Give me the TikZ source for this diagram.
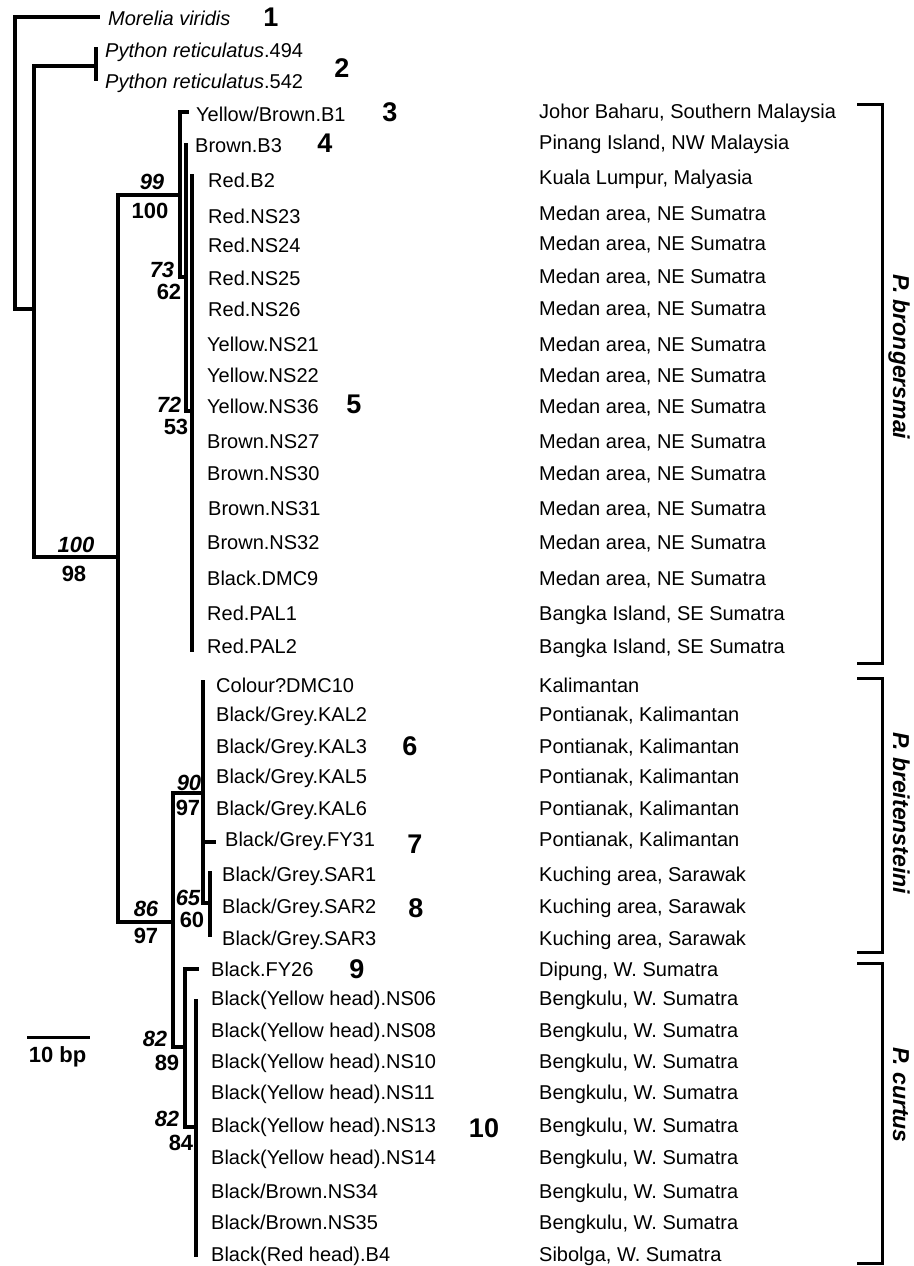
\documentclass[tikz,border=0pt]{standalone}
\usepackage{fontspec}
\setmainfont{Liberation Sans}
\usetikzlibrary{positioning,calc}

\begin{document}
\begin{tikzpicture}[x=1pt, y=-1pt, line join=miter,
    every node/.style={inner sep=0pt, font=\fontsize{20}{24}\selectfont},
    brline/.style={line width=3.4pt},
    taxon/.style={anchor=base west},
    place/.style={anchor=base west},
    boot/.style={anchor=base, font=\fontsize{22}{26}\selectfont\bfseries},
    bootit/.style={anchor=base, font=\fontsize{22}{26}\selectfont\bfseries\itshape},
    cladeno/.style={anchor=base, font=\fontsize{27}{30}\selectfont\bfseries},
    species/.style={anchor=base, rotate=-90, font=\fontsize{23}{26}\selectfont\bfseries\itshape},
    spbracket/.style={line width=3pt}]
    \useasboundingbox (0,0) rectangle (913,1266);

    \coordinate (root) at (15,160);
    \coordinate (nA) at (34,309);
    \coordinate (nPy) at (96,66);
    \coordinate (nB) at (118,557);
    \coordinate (nC) at (180,195);
    \coordinate (nD) at (186,277);
    \coordinate (nE) at (192,411);
    \coordinate (nF) at (173,922);
    \coordinate (nG) at (203,793);
    \coordinate (nH) at (210,903);
    \coordinate (nI) at (185,1047);
    \coordinate (nJ) at (196,1127);

    \coordinate (tMor) at (100,17);
    \coordinate (tPy1) at (96,47);
    \coordinate (tPy2) at (96,81);
    \coordinate (tB1) at (189,112);
    \coordinate (tB3) at (186,143);
    \coordinate (tB2) at (192,174);
    \coordinate (tPAL2) at (192,652);
    \coordinate (tDMC10) at (203,680);
    \coordinate (tFY31) at (216,842);
    \coordinate (tSAR1) at (210,871);
    \coordinate (tSAR3) at (210,937);
    \coordinate (tFY26) at (199,969);
    \coordinate (tNS06) at (196,999);
    \coordinate (tB4) at (196,1257);

    \draw[brline] (root) |- (tMor);
    \draw[brline] (root) |- (nA);
    \draw[brline] (nA) |- (nPy);
    \draw[brline] (tPy1) -- (tPy2);
    \draw[brline] (nA) |- (nB);
    \draw[brline] (nB) |- (nC);
    \draw[brline] (nB) |- (nF);
    \draw[brline] (nC) |- (tB1);
    \draw[brline] (nC) |- (nD);
    \draw[brline] (nD) -- (tB3);
    \draw[brline] (nD) |- (nE);
    \draw[brline] (tB2) -- (tPAL2);
    \draw[brline] (nF) |- (nG);
    \draw[brline] (nF) |- (nI);
    \draw[brline] (nG) -- (tDMC10);
    \draw[brline] (nG) |- (tFY31);
    \draw[brline] (nG) |- (nH);
    \draw[brline] (tSAR1) -- (tSAR3);
    \draw[brline] (nI) |- (tFY26);
    \draw[brline] (nI) |- (nJ);
    \draw[brline] (tNS06) -- (tB4);

    \node[taxon] (lMor) at (108,25) {\itshape Morelia viridis};
    \node[taxon] (lPy1) at (105,57) {{\itshape Python reticulatus}.494};
    \node[taxon] (lPy2) at (105,88) {{\itshape Python reticulatus}.542};
    \node[taxon] (lB1) at (196,121) {Yellow/Brown.B1};
    \node[taxon] (lB3) at (195,152) {Brown.B3};
    \node[taxon] (lB2) at (208,187) {Red.B2};
    \node[taxon] (lNS23) at (208,223) {Red.NS23};
    \node[taxon] (lNS24) at (208,252) {Red.NS24};
    \node[taxon] (lNS25) at (208,285) {Red.NS25};
    \node[taxon] (lNS26) at (208,316) {Red.NS26};
    \node[taxon] (lNS21) at (207,351) {Yellow.NS21};
    \node[taxon] (lNS22) at (207,382) {Yellow.NS22};
    \node[taxon] (lNS36) at (207,413) {Yellow.NS36};
    \node[taxon] (lNS27) at (207,448) {Brown.NS27};
    \node[taxon] (lNS30) at (207,480) {Brown.NS30};
    \node[taxon] (lNS31) at (208,515) {Brown.NS31};
    \node[taxon] (lNS32) at (207,549) {Brown.NS32};
    \node[taxon] (lDMC9) at (207,585) {Black.DMC9};
    \node[taxon] (lPAL1) at (207,620) {Red.PAL1};
    \node[taxon] (lPAL2) at (207,653) {Red.PAL2};
    \node[taxon] (lDMC10) at (216,692) {Colour?DMC10};
    \node[taxon] (lKAL2) at (216,721) {Black/Grey.KAL2};
    \node[taxon] (lKAL3) at (216,753) {Black/Grey.KAL3};
    \node[taxon] (lKAL5) at (216,783) {Black/Grey.KAL5};
    \node[taxon] (lKAL6) at (216,815) {Black/Grey.KAL6};
    \node[taxon] (lFY31) at (225,846) {Black/Grey.FY31};
    \node[taxon] (lSAR1) at (222,881) {Black/Grey.SAR1};
    \node[taxon] (lSAR2) at (222,913) {Black/Grey.SAR2};
    \node[taxon] (lSAR3) at (222,945) {Black/Grey.SAR3};
    \node[taxon] (lFY26) at (211,976) {Black.FY26};
    \node[taxon] (lNS06) at (211,1005) {Black(Yellow head).NS06};
    \node[taxon] (lNS08) at (211,1037) {Black(Yellow head).NS08};
    \node[taxon] (lNS10) at (211,1068) {Black(Yellow head).NS10};
    \node[taxon] (lNS11) at (211,1099) {Black(Yellow head).NS11};
    \node[taxon] (lNS13) at (211,1132) {Black(Yellow head).NS13};
    \node[taxon] (lNS14) at (211,1164) {Black(Yellow head).NS14};
    \node[taxon] (lNS34) at (211,1198) {Black/Brown.NS34};
    \node[taxon] (lNS35) at (211,1229) {Black/Brown.NS35};
    \node[taxon] (lB4) at (211,1261) {Black(Red head).B4};

    \coordinate (colL) at (539,0);
    \node[place] (cB1) at ($(colL |- lB1.base)+(0,-3)$) {Johor Baharu, Southern Malaysia};
    \node[place] (cB3) at ($(colL |- lB3.base)+(0,-3)$) {Pinang Island, NW Malaysia};
    \node[place] (cB2) at ($(colL |- lB2.base)+(0,-3)$) {Kuala Lumpur, Malyasia};
    \node[place] (cNS23) at ($(colL |- lNS23.base)+(0,-3)$) {Medan area, NE Sumatra};
    \node[place] (cNS24) at ($(colL |- lNS24.base)+(0,-2)$) {Medan area, NE Sumatra};
    \node[place] (cNS25) at ($(colL |- lNS25.base)+(0,-2)$) {Medan area, NE Sumatra};
    \node[place] (cNS26) at ($(colL |- lNS26.base)+(0,-1)$) {Medan area, NE Sumatra};
    \node[place] (cNS21) at (colL |- lNS21.base) {Medan area, NE Sumatra};
    \node[place] (cNS22) at (colL |- lNS22.base) {Medan area, NE Sumatra};
    \node[place] (cNS36) at (colL |- lNS36.base) {Medan area, NE Sumatra};
    \node[place] (cNS27) at (colL |- lNS27.base) {Medan area, NE Sumatra};
    \node[place] (cNS30) at (colL |- lNS30.base) {Medan area, NE Sumatra};
    \node[place] (cNS31) at (colL |- lNS31.base) {Medan area, NE Sumatra};
    \node[place] (cNS32) at (colL |- lNS32.base) {Medan area, NE Sumatra};
    \node[place] (cDMC9) at (colL |- lDMC9.base) {Medan area, NE Sumatra};
    \node[place] (cPAL1) at (colL |- lPAL1.base) {Bangka Island, SE Sumatra};
    \node[place] (cPAL2) at (colL |- lPAL2.base) {Bangka Island, SE Sumatra};
    \node[place] (cDMC10) at (colL |- lDMC10.base) {Kalimantan};
    \node[place] (cKAL2) at (colL |- lKAL2.base) {Pontianak, Kalimantan};
    \node[place] (cKAL3) at (colL |- lKAL3.base) {Pontianak, Kalimantan};
    \node[place] (cKAL5) at (colL |- lKAL5.base) {Pontianak, Kalimantan};
    \node[place] (cKAL6) at (colL |- lKAL6.base) {Pontianak, Kalimantan};
    \node[place] (cFY31) at (colL |- lFY31.base) {Pontianak, Kalimantan};
    \node[place] (cSAR1) at (colL |- lSAR1.base) {Kuching area, Sarawak};
    \node[place] (cSAR2) at (colL |- lSAR2.base) {Kuching area, Sarawak};
    \node[place] (cSAR3) at (colL |- lSAR3.base) {Kuching area, Sarawak};
    \node[place] (cFY26) at (colL |- lFY26.base) {Dipung, W. Sumatra};
    \node[place] (cNS06) at (colL |- lNS06.base) {Bengkulu, W. Sumatra};
    \node[place] (cNS08) at (colL |- lNS08.base) {Bengkulu, W. Sumatra};
    \node[place] (cNS10) at (colL |- lNS10.base) {Bengkulu, W. Sumatra};
    \node[place] (cNS11) at (colL |- lNS11.base) {Bengkulu, W. Sumatra};
    \node[place] (cNS13) at (colL |- lNS13.base) {Bengkulu, W. Sumatra};
    \node[place] (cNS14) at (colL |- lNS14.base) {Bengkulu, W. Sumatra};
    \node[place] (cNS34) at (colL |- lNS34.base) {Bengkulu, W. Sumatra};
    \node[place] (cNS35) at (colL |- lNS35.base) {Bengkulu, W. Sumatra};
    \node[place] (cB4) at (colL |- lB4.base) {Sibolga, W. Sumatra};

    \node[bootit] (bsC) at (152,189) {99};
    \node[boot] (bpC) at (150,218) {100};
    \node[bootit] (bsD) at (162,277) {73};
    \node[boot] (bpD) at (169,299) {62};
    \node[bootit] (bsE) at (169,412) {72};
    \node[boot] (bpE) at (176,434) {53};
    \node[bootit] (bsB) at (76,552) {100};
    \node[boot] (bpB) at (74,581) {98};
    \node[bootit] (bsG) at (189,790) {90};
    \node[boot] (bpG) at (188,815) {97};
    \node[bootit] (bsH) at (188,905) {65};
    \node[boot] (bpH) at (192,927) {60};
    \node[bootit] (bsF) at (146,916) {86};
    \node[boot] (bpF) at (146,943) {97};
    \node[bootit] (bsI) at (155,1046) {82};
    \node[boot] (bpI) at (167,1070) {89};
    \node[bootit] (bsJ) at (167,1126) {82};
    \node[boot] (bpJ) at (181,1150) {84};

    \node[cladeno] (k1) at (271,27) {1};
    \node[cladeno] (k2) at (342,77) {2};
    \node[cladeno] (k3) at (390,121) {3};
    \node[cladeno] (k4) at (325,152) {4};
    \node[cladeno] (k5) at (354,413) {5};
    \node[cladeno] (k6) at (410,755) {6};
    \node[cladeno] (k7) at (415,853) {7};
    \node[cladeno] (k8) at (416,917) {8};
    \node[cladeno] (k9) at (357,978) {9};
    \node[cladeno] (k10) at (484,1137) {10};

    \coordinate (bgA) at (857,104);
    \coordinate (bgB) at (857,663);
    \coordinate (btA) at (857,678);
    \coordinate (btB) at (857,952);
    \coordinate (bcA) at (857,963);
    \coordinate (bcB) at (857,1263);
    \draw[spbracket] (bgA) -- ++(25,0) |- (bgB);
    \draw[spbracket] (btA) -- ++(25,0) |- (btB);
    \draw[spbracket] (bcA) -- ++(25,0) |- (bcB);
    \node[species] (sBg) at (893,357) {P. brongersmai};
    \node[species] (sBt) at (893,813) {P. breitensteini};
    \node[species] (sCu) at (893,1095) {P. curtus};

    \coordinate (sbL) at (27,1037);
    \coordinate (sbR) at (90,1037);
    \draw[line width=3pt] (sbL) -- (sbR);
    \node[boot] (sbT) at (57.5,1062) {10 bp};
\end{tikzpicture}
\end{document}
